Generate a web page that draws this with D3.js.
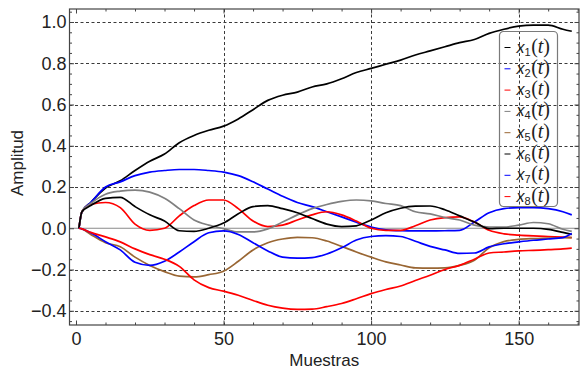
<!DOCTYPE html>
<html>
<head>
<meta charset="utf-8">
<script src="https://cdn.jsdelivr.net/npm/d3@7"></script>
<style>
  html, body { margin: 0; padding: 0; background: #fff; }
  svg { display: block; }
  text { font-family: "Liberation Sans", Arial, sans-serif; }
</style>
</head>
<body>
<svg id="chart" width="581" height="377"></svg>
<script>
// Sample index (Muestras) at which each series is listed
const samples = [1, 2, 5, 10, 15, 20, 25, 30, 35, 40, 45, 50, 55, 60, 65, 70, 75, 80, 85,
  90, 95, 100, 105, 110, 115, 120, 125, 130, 135, 140, 145, 150, 155, 160, 165, 168];

const x1 = [0, 0.08, 0.125, 0.195, 0.23, 0.28, 0.325, 0.36, 0.415, 0.45, 0.475, 0.495, 0.53, 0.575,
  0.62, 0.645, 0.66, 0.685, 0.70, 0.725, 0.755, 0.775, 0.795, 0.815, 0.84, 0.86, 0.88, 0.90, 0.915,
  0.945, 0.965, 0.98, 0.985, 0.985, 0.965, 0.955];
const x2 = [0, 0.08, 0.125, 0.2, 0.225, 0.255, 0.272, 0.28, 0.285, 0.285, 0.28, 0.272, 0.255, 0.225,
  0.19, 0.155, 0.125, 0.105, 0.08, 0.055, 0.03, 0.006, -0.008, -0.012, -0.013, -0.013, -0.012, -0.01,
  0.03, 0.075, 0.095, 0.10, 0.10, 0.095, 0.08, 0.065];
const x3 = [0, 0.08, 0.115, 0.125, 0.10, 0.02, -0.01, 0.0, 0.06, 0.11, 0.137, 0.137, 0.095, 0.035,
  0.008, 0.015, 0.04, 0.065, 0.08, 0.065, 0.035, 0.0, -0.01, -0.01, 0.012, 0.04, 0.052, 0.055, 0.03,
  -0.01, -0.027, -0.033, -0.037, -0.04, -0.043, -0.045];
const x4 = [0, 0.08, 0.12, 0.165, 0.18, 0.185, 0.175, 0.145, 0.095, 0.04, 0.015, -0.002, -0.018,
  -0.018, -0.003, 0.03, 0.065, 0.095, 0.115, 0.13, 0.137, 0.133, 0.12, 0.11, 0.08, 0.07, 0.052, 0.04,
  0.015, 0.006, 0.006, 0.015, 0.028, 0.022, -0.005, -0.015];
const x5 = [0, -0.003, -0.03, -0.07, -0.09, -0.14, -0.18, -0.21, -0.232, -0.236, -0.225, -0.208,
  -0.16, -0.105, -0.07, -0.052, -0.044, -0.046, -0.062, -0.088, -0.115, -0.14, -0.163, -0.178, -0.192,
  -0.193, -0.192, -0.18, -0.155, -0.095, -0.065, -0.054, -0.05, -0.048, -0.046, -0.045];
const x6 = [0, 0.08, 0.11, 0.145, 0.15, 0.105, 0.065, 0.035, -0.012, -0.015, 0.0, 0.025, 0.07, 0.105,
  0.11, 0.095, 0.075, 0.047, 0.02, 0.008, 0.012, 0.04, 0.075, 0.097, 0.107, 0.108, 0.09, 0.06, 0.03,
  -0.002, 0.0, 0.0, 0.0, -0.005, -0.02, -0.03];
const x7 = [0, -0.003, -0.022, -0.065, -0.105, -0.165, -0.18, -0.16, -0.115, -0.065, -0.022, -0.013,
  -0.03, -0.07, -0.11, -0.14, -0.145, -0.142, -0.125, -0.095, -0.057, -0.04, -0.036, -0.04, -0.063,
  -0.088, -0.105, -0.122, -0.12, -0.09, -0.075, -0.066, -0.058, -0.052, -0.045, -0.025];
const x8 = [0, -0.003, -0.02, -0.042, -0.066, -0.1, -0.128, -0.15, -0.185, -0.25, -0.288, -0.305,
  -0.325, -0.35, -0.373, -0.387, -0.393, -0.392, -0.38, -0.365, -0.342, -0.317, -0.297, -0.28, -0.253,
  -0.228, -0.2, -0.18, -0.15, -0.12, -0.115, -0.11, -0.107, -0.104, -0.1, -0.096];

const seriesNames = ["1", "2", "3", "4", "5", "6", "7", "8"];
const seriesValues = [x1, x2, x3, x4, x5, x6, x7, x8];
const seriesColors = ["#000000", "#0000ff", "#ff0000", "#808080", "#996633", "#000000", "#0000ff", "#ff0000"];

const xMajorTicks = [0, 50, 100, 150];
const yMajorTicks = [-0.4, -0.2, 0.0, 0.2, 0.4, 0.6, 0.8, 1.0];
const xLabel = "Muestras";
const yLabel = "Amplitud";

const svg = d3.select("#chart");
const frame = { left: 69.5, right: 579, top: 9, bottom: 325 };

const x = d3.scaleLinear().domain([-2.2, 170.45]).range([frame.left, frame.right]);
const y = d3.scaleLinear().domain([-0.469, 1.063]).range([frame.bottom, frame.top]);

const xMinor = d3.range(0, 171, 10).filter(v => !xMajorTicks.includes(v));
const yMinor = d3.range(-0.45, 1.06, 0.05).map(v => +v.toFixed(2))
  .filter(v => !yMajorTicks.some(m => Math.abs(m - v) < 1e-6));

// Dashed grid
const grid = svg.append("g")
  .attr("stroke", "#3a3a3a").attr("stroke-width", 1).attr("stroke-dasharray", "3,2.5");
grid.selectAll("line.h").data(yMajorTicks.filter(v => v !== 0)).join("line")
  .attr("x1", frame.left).attr("x2", frame.right)
  .attr("y1", d => Math.round(y(d)) + 0.5).attr("y2", d => Math.round(y(d)) + 0.5);
grid.selectAll("line.v").data(xMajorTicks.filter(v => v !== 0)).join("line")
  .attr("y1", frame.top).attr("y2", frame.bottom)
  .attr("x1", d => Math.round(x(d)) + 0.5).attr("x2", d => Math.round(x(d)) + 0.5);

// Zero axis line
svg.append("line")
  .attr("x1", frame.left).attr("x2", frame.right)
  .attr("y1", y(0)).attr("y2", y(0))
  .attr("stroke", "#8a8a8a").attr("stroke-width", 1.2);

// Series
const line = d3.line()
  .x((d, i) => x(samples[i]))
  .y(d => y(d))
  .curve(d3.curveMonotoneX);

svg.append("g").selectAll("path").data(seriesValues).join("path")
  .attr("d", d => line(d))
  .attr("fill", "none")
  .attr("stroke", (d, i) => seriesColors[i])
  .attr("stroke-width", 1.7)
  .attr("stroke-linejoin", "round");

// Frame with inward ticks on all four sides
function frameAxis(axisFn, scale, major, minor, transform, showLabels) {
  const gMinor = svg.append("g").attr("transform", transform)
    .call(axisFn(scale).tickValues(minor).tickSize(-2.5).tickFormat(""));
  const gMajor = svg.append("g").attr("transform", transform)
    .call(axisFn(scale).tickValues(major).tickSize(-4.5).tickPadding(showLabels ? 10 : 0)
      .tickFormat(showLabels ? (axisFn === d3.axisLeft || axisFn === d3.axisRight ? d3.format(".1f") : d3.format("d")) : ""));
  [gMinor, gMajor].forEach(g => {
    g.select(".domain").remove();
    g.selectAll(".tick line").attr("stroke", "#444").attr("stroke-width", 1);
  });
  gMajor.selectAll(".tick text")
    .attr("fill", "#222").attr("font-size", 18)
    .attr("font-family", "Liberation Sans, Arial, sans-serif")
    .text(function() { return d3.select(this).text().replace("-", "\u2212"); });
  return gMajor;
}
const gl = frameAxis(d3.axisLeft, y, yMajorTicks, yMinor, `translate(${frame.left},0)`, true);
gl.selectAll(".tick text").attr("x", -3);
frameAxis(d3.axisRight, y, yMajorTicks, yMinor, `translate(${frame.right},0)`, false);
const gb = frameAxis(d3.axisBottom, x, xMajorTicks, xMinor, `translate(0,${frame.bottom})`, true);
gb.selectAll(".tick text").attr("y", 7).attr("dy", "0.71em");
frameAxis(d3.axisTop, x, xMajorTicks, xMinor, `translate(0,${frame.top})`, false);

svg.append("rect")
  .attr("x", frame.left).attr("y", frame.top)
  .attr("width", frame.right - frame.left).attr("height", frame.bottom - frame.top)
  .attr("fill", "none").attr("stroke", "#444").attr("stroke-width", 1.2);

// Axis titles
svg.append("text")
  .attr("x", (frame.left + frame.right) / 2).attr("y", 366)
  .attr("text-anchor", "middle").attr("font-size", 17).attr("fill", "#222")
  .text(xLabel);
svg.append("text")
  .attr("transform", `translate(23,163) rotate(-90)`)
  .attr("text-anchor", "middle").attr("font-size", 17).attr("fill", "#222")
  .text(yLabel);

// Legend
const legend = svg.append("g").attr("transform", "translate(499.5,31.5)");
legend.append("rect")
  .attr("width", 58).attr("height", 175).attr("rx", 4)
  .attr("fill", "none").attr("stroke", "#7a7a7a").attr("stroke-width", 1.2);
const entries = legend.selectAll("g.entry").data(seriesNames).join("g")
  .attr("transform", (d, i) => `translate(0,${16 + i * 21.3})`);
entries.append("line")
  .attr("x1", 5).attr("x2", 11).attr("y1", 0).attr("y2", 0)
  .attr("stroke", (d, i) => seriesColors[i]).attr("stroke-width", 1);
const lbl = entries.append("text").attr("x", 17).attr("y", 5).attr("fill", "#222");
lbl.append("tspan").attr("font-family", "Liberation Sans, Arial, sans-serif")
  .attr("font-style", "italic").attr("font-size", 16).text("x");
lbl.append("tspan").attr("font-family", "Liberation Sans, Arial, sans-serif")
  .attr("font-size", 11).attr("dy", 3).text(d => d);
lbl.append("tspan").attr("font-family", "Liberation Serif, serif")
  .attr("font-size", 20).attr("dy", -3).attr("dx", 0.5).text("(");
lbl.append("tspan").attr("font-family", "Liberation Serif, serif")
  .attr("font-style", "italic").attr("font-size", 20).text("t");
lbl.append("tspan").attr("font-family", "Liberation Serif, serif")
  .attr("font-size", 20).text(")");
</script>
</body>
</html>
